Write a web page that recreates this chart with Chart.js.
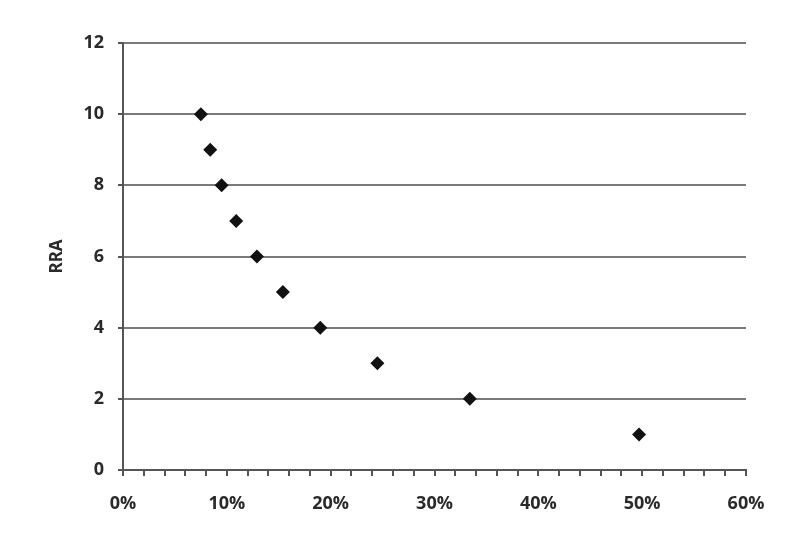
<!DOCTYPE html>
<html>
<head>
<meta charset="utf-8">
<script src="https://cdn.jsdelivr.net/npm/chart.js@4"></script>
<style>
    html, body { margin: 0; padding: 0; background: #fff; }
    #wrap { width: 793px; height: 534px; }
</style>
</head>
<body>
<div id="wrap"><canvas id="rraChart" width="793" height="534"></canvas></div>
<script>
// values
const rraValues = [10, 9, 8, 7, 6, 5, 4, 3, 2, 1];
const sharePct = [7.5, 8.4, 9.5, 10.9, 12.9, 15.4, 19.0, 24.5, 33.4, 49.7];
const yTicks = [0, 2, 4, 6, 8, 10, 12];
const xTickLabels = ['0%', '10%', '20%', '30%', '40%', '50%', '60%'];

const points = sharePct.map((x, i) => ({ x: x, y: rraValues[i] }));
const tickFont = { family: 'Open Sans', size: 18, weight: '700' };

const ctx = document.getElementById('rraChart').getContext('2d');
const rraChart = new Chart(ctx, {
    type: 'scatter',
    data: {
        datasets: [{
            data: points,
            pointStyle: 'rectRot',
            pointRadius: 7,
            pointBackgroundColor: '#111',
            pointBorderColor: '#111',
            pointBorderWidth: 0
        }]
    },
    options: {
        responsive: false,
        animation: false,
        layout: { padding: { top: 43, right: 47, left: 0, bottom: 0 } },
        plugins: { legend: { display: false }, tooltip: { enabled: false } },
        scales: {
            x: {
                type: 'linear',
                min: 0,
                max: 60,
                afterFit: s => { s.height = 534 - 470; },
                border: { color: '#555', width: 2 },
                grid: { drawOnChartArea: false, drawTicks: true, tickLength: 6, color: '#555', lineWidth: 2 },
                ticks: {
                    stepSize: 2,
                    autoSkip: false,
                    maxRotation: 0,
                    padding: 17,
                    color: '#2a2a2a',
                    font: tickFont,
                    callback: v => (v % 10 === 0 ? xTickLabels[v / 10] : '')
                }
            },
            y: {
                min: 0,
                max: 12,
                afterFit: s => { s.width = 123; },
                border: { color: '#555', width: 2 },
                grid: { color: '#7a7a7a', lineWidth: 2, tickColor: '#555', tickLength: 5 },
                ticks: {
                    stepSize: 2,
                    padding: 14,
                    color: '#2a2a2a',
                    font: tickFont,
                    callback: v => (yTicks.includes(v) ? String(v) : '')
                },
                title: {
                    display: true,
                    text: 'RRA',
                    color: '#2a2a2a',
                    font: { family: 'Open Sans', size: 17, weight: '700' },
                    padding: { top: 47 }
                }
            }
        }
    }
});
</script>
</body>
</html>
